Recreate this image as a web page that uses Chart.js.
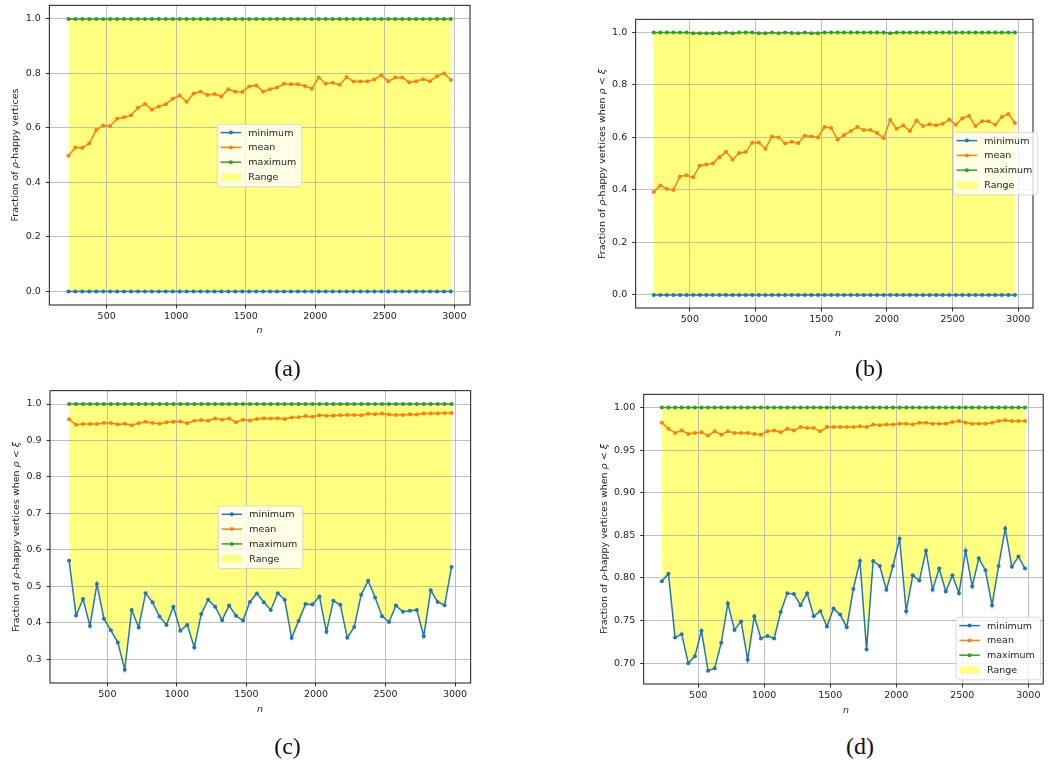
<!DOCTYPE html>
<html>
<head>
<meta charset="utf-8">
<script src="https://cdn.jsdelivr.net/npm/chart.js@4/dist/chart.umd.min.js"></script>
<style>
  html, body { margin: 0; padding: 0; background: #fff; }
  body { width: 1050px; height: 761px; position: relative; overflow: hidden;
         font-family: "DejaVu Sans", sans-serif; }
  canvas { position: absolute; }
  .ytitle { position: absolute; white-space: nowrap; font-size: 9.5px; color: #222;
            line-height: 1; transform: translate(-50%, -50%) rotate(-90deg); }
  .xtitle { position: absolute; white-space: nowrap; font-size: 9.5px; color: #222;
            line-height: 1; transform: translate(-50%, -50%); font-style: italic; }
  .cap { position: absolute; font-family: "Liberation Serif", "Times New Roman", serif;
         font-size: 24px; line-height: 1; color: #111; transform: translateX(-50%); }
  i { font-style: italic; }
</style>
</head>
<body>
<script>
// graph sizes n
const nValues = [225, 275, 325, 375, 425, 475, 525, 575, 625, 675,
                 725, 775, 825, 875, 925, 975, 1025, 1075, 1125, 1175,
                 1225, 1275, 1325, 1375, 1425, 1475, 1525, 1575, 1625, 1675,
                 1725, 1775, 1825, 1875, 1925, 1975, 2025, 2075, 2125, 2175,
                 2225, 2275, 2325, 2375, 2425, 2475, 2525, 2575, 2625, 2675,
                 2725, 2775, 2825, 2875, 2925, 2975];

// (a) fraction of rho-happy vertices
const minA = [0, 0, 0, 0, 0, 0, 0, 0, 0, 0, 0, 0, 0, 0, 0, 0, 0, 0, 0, 0,
              0, 0, 0, 0, 0, 0, 0, 0, 0, 0, 0, 0, 0, 0, 0, 0, 0, 0, 0, 0,
              0, 0, 0, 0, 0, 0, 0, 0, 0, 0, 0, 0, 0, 0, 0, 0];
const meanA = [0.498, 0.528, 0.527, 0.543, 0.592, 0.609, 0.607, 0.634, 0.639, 0.646,
               0.674, 0.688, 0.667, 0.679, 0.687, 0.707, 0.719, 0.696, 0.726, 0.733,
               0.721, 0.724, 0.715, 0.742, 0.733, 0.732, 0.752, 0.756, 0.733, 0.742,
               0.748, 0.762, 0.760, 0.760, 0.754, 0.744, 0.785, 0.762, 0.766, 0.758,
               0.787, 0.770, 0.770, 0.771, 0.778, 0.793, 0.771, 0.785, 0.785, 0.768,
               0.771, 0.779, 0.771, 0.790, 0.800, 0.776];
const maxA = [1, 1, 1, 1, 1, 1, 1, 1, 1, 1, 1, 1, 1, 1, 1, 1, 1, 1, 1, 1,
              1, 1, 1, 1, 1, 1, 1, 1, 1, 1, 1, 1, 1, 1, 1, 1, 1, 1, 1, 1,
              1, 1, 1, 1, 1, 1, 1, 1, 1, 1, 1, 1, 1, 1, 1, 1];

// (b) rho-happy vertices when rho < xi
const minB = [0, 0, 0, 0, 0, 0, 0, 0, 0, 0, 0, 0, 0, 0, 0, 0, 0, 0, 0, 0,
              0, 0, 0, 0, 0, 0, 0, 0, 0, 0, 0, 0, 0, 0, 0, 0, 0, 0, 0, 0,
              0, 0, 0, 0, 0, 0, 0, 0, 0, 0, 0, 0, 0, 0, 0, 0];
const meanB = [0.392, 0.417, 0.403, 0.400, 0.451, 0.456, 0.448, 0.492, 0.497, 0.501,
               0.524, 0.545, 0.516, 0.541, 0.544, 0.580, 0.581, 0.557, 0.603, 0.600,
               0.577, 0.583, 0.578, 0.606, 0.603, 0.600, 0.640, 0.636, 0.592, 0.609,
               0.624, 0.640, 0.628, 0.628, 0.617, 0.597, 0.666, 0.633, 0.645, 0.624,
               0.664, 0.643, 0.650, 0.646, 0.652, 0.668, 0.648, 0.673, 0.682, 0.643,
               0.662, 0.662, 0.648, 0.678, 0.689, 0.655];
const maxB = [1, 1, 1, 1, 1, 1, 0.997, 0.997, 0.997, 0.997,
              0.997, 1, 0.997, 1, 1, 1, 0.997, 0.997, 1, 0.997,
              1, 0.998, 0.997, 1, 0.997, 0.997, 1, 1, 1, 1,
              1, 1, 1, 1, 1, 1, 0.997, 1, 1, 1,
              1, 1, 1, 1, 1, 1, 1, 1, 1, 1,
              1, 1, 1, 1, 1, 1];

// (c)
const minC = [0.570, 0.420, 0.465, 0.391, 0.506, 0.411, 0.379, 0.346, 0.271, 0.435,
              0.387, 0.481, 0.456, 0.417, 0.394, 0.444, 0.378, 0.394, 0.332, 0.424,
              0.463, 0.444, 0.407, 0.447, 0.419, 0.406, 0.457, 0.480, 0.456, 0.435,
              0.481, 0.463, 0.358, 0.405, 0.451, 0.450, 0.472, 0.375, 0.460, 0.449,
              0.359, 0.388, 0.477, 0.515, 0.469, 0.418, 0.402, 0.447, 0.430, 0.433,
              0.435, 0.363, 0.489, 0.457, 0.448, 0.553];
const meanC = [0.958, 0.943, 0.945, 0.945, 0.945, 0.948, 0.948, 0.944, 0.946, 0.942,
               0.947, 0.951, 0.948, 0.946, 0.950, 0.951, 0.952, 0.947, 0.954, 0.956,
               0.954, 0.960, 0.957, 0.960, 0.950, 0.957, 0.955, 0.959, 0.961, 0.960,
               0.961, 0.959, 0.963, 0.964, 0.967, 0.965, 0.969, 0.968, 0.968, 0.969,
               0.970, 0.970, 0.969, 0.973, 0.972, 0.974, 0.971, 0.970, 0.970, 0.972,
               0.971, 0.974, 0.974, 0.974, 0.975, 0.975];
const maxC = [1, 1, 1, 1, 1, 1, 1, 1, 1, 1, 1, 1, 1, 1, 1, 1, 1, 1, 1, 1,
              1, 1, 1, 1, 1, 1, 1, 1, 1, 1, 1, 1, 1, 1, 1, 1, 1, 1, 1, 1,
              1, 1, 1, 1, 1, 1, 1, 1, 1, 1, 1, 1, 1, 1, 1, 1];

// (d)
const minD = [0.796, 0.805, 0.730, 0.734, 0.700, 0.708, 0.738, 0.691, 0.694, 0.724,
              0.770, 0.739, 0.749, 0.704, 0.755, 0.729, 0.732, 0.729, 0.760, 0.782,
              0.781, 0.768, 0.782, 0.755, 0.761, 0.743, 0.764, 0.757, 0.742, 0.787,
              0.820, 0.716, 0.820, 0.814, 0.786, 0.814, 0.846, 0.761, 0.803, 0.797,
              0.832, 0.786, 0.811, 0.784, 0.803, 0.782, 0.832, 0.790, 0.823, 0.809,
              0.768, 0.814, 0.858, 0.813, 0.825, 0.811];
const meanD = [0.982, 0.975, 0.970, 0.973, 0.969, 0.970, 0.971, 0.967, 0.972, 0.968,
               0.972, 0.970, 0.970, 0.970, 0.969, 0.968, 0.972, 0.973, 0.971, 0.975,
               0.973, 0.977, 0.976, 0.976, 0.972, 0.977, 0.977, 0.977, 0.977, 0.977,
               0.978, 0.977, 0.980, 0.979, 0.980, 0.980, 0.981, 0.981, 0.980, 0.982,
               0.982, 0.981, 0.981, 0.981, 0.983, 0.984, 0.982, 0.981, 0.981, 0.981,
               0.982, 0.984, 0.985, 0.984, 0.984, 0.984];
const maxD = [1, 1, 1, 1, 1, 1, 1, 1, 1, 1, 1, 1, 1, 1, 1, 1, 1, 1, 1, 1,
              1, 1, 1, 1, 1, 1, 1, 1, 1, 1, 1, 1, 1, 1, 1, 1, 1, 1, 1, 1,
              1, 1, 1, 1, 1, 1, 1, 1, 1, 1, 1, 1, 1, 1, 1, 1];

// tick values
const xTicks = [500, 1000, 1500, 2000, 2500, 3000];
const yTicksFull = [0.0, 0.2, 0.4, 0.6, 0.8, 1.0];
const yTicksC = [0.3, 0.4, 0.5, 0.6, 0.7, 0.8, 0.9, 1.0];
const yTicksD = [0.70, 0.75, 0.80, 0.85, 0.90, 0.95, 1.00];

const seriesNames = ['minimum', 'mean', 'maximum', 'Range'];
const panelLetters = ['(a)', '(b)', '(c)', '(d)'];

const BLUE = '#1f77b4', ORANGE = '#ff7f0e', GREEN = '#2ca02c', YELLOW = '#ffff80';
const FONT = { family: 'DejaVu Sans', size: 9.5 };
const TEXT = '#222';

// axes frame (all four spines)
const framePlugin = {
  id: 'frame',
  afterDatasetsDraw(chart) {
    const a = chart.chartArea, ctx = chart.ctx;
    ctx.save();
    ctx.strokeStyle = '#000';
    ctx.lineWidth = 0.9;
    ctx.strokeRect(a.left, a.top, a.right - a.left, a.bottom - a.top);
    ctx.restore();
  }
};

// boxed legend placed inside the axes
const boxLegendPlugin = {
  id: 'boxLegend',
  afterDraw(chart, args, opts) {
    const ctx = chart.ctx;
    const x = opts.x, y = opts.y, w = 84.5, h = 62.5, r = 3;
    ctx.save();
    ctx.beginPath();
    ctx.roundRect(x, y, w, h, r);
    ctx.fillStyle = 'rgba(255,255,255,0.8)';
    ctx.fill();
    ctx.strokeStyle = '#d0d0d0';
    ctx.lineWidth = 0.8;
    ctx.stroke();
    ctx.font = FONT.size + 'px "DejaVu Sans"';
    ctx.textBaseline = 'middle';
    chart.data.datasets.forEach((ds, i) => {
      const ry = y + 8.3 + i * 14.8;
      const hx0 = x + 3.3, hx1 = x + 23.8;
      if (ds.fill !== undefined && ds.fill !== false) {
        ctx.fillStyle = ds.backgroundColor;
        ctx.fillRect(hx0, ry - 3.5, hx1 - hx0, 7);
      } else {
        ctx.strokeStyle = ds.borderColor;
        ctx.lineWidth = 1.5;
        ctx.beginPath();
        ctx.moveTo(hx0, ry);
        ctx.lineTo(hx1, ry);
        ctx.stroke();
        ctx.fillStyle = ds.borderColor;
        ctx.beginPath();
        ctx.arc((hx0 + hx1) / 2, ry, 2, 0, Math.PI * 2);
        ctx.fill();
      }
      ctx.fillStyle = TEXT;
      ctx.fillText(ds.label, x + 31, ry + 0.5);
    });
    ctx.restore();
  }
};

function line(label, values, color) {
  return {
    label, data: nValues.map((n, i) => ({ x: n, y: values[i] })),
    borderColor: color, backgroundColor: color, borderWidth: 1.5,
    pointRadius: 2, pointBorderWidth: 0, pointBackgroundColor: color,
    tension: 0, fill: false
  };
}

function panel(p) {
  const c = document.createElement('canvas');
  c.width = p.w; c.height = p.h;
  c.style.left = p.left + 'px'; c.style.top = p.top + 'px';
  c.style.width = p.w + 'px'; c.style.height = p.h + 'px';
  document.body.appendChild(c);

  const strip = s => { s.paddingLeft = 0; s.paddingRight = 0; s.paddingTop = 0; s.paddingBottom = 0; };
  const gridOpts = { color: '#b0b0b0', lineWidth: 0.8, tickLength: 3.5, tickColor: '#000', tickWidth: 0.8 };

  new Chart(c, {
    type: 'line',
    data: {
      datasets: [
        line(seriesNames[0], p.min, BLUE),
        line(seriesNames[1], p.mean, ORANGE),
        line(seriesNames[2], p.max, GREEN),
        // shaded band: drawn along the minimum and filled up to the maximum (dataset 2)
        {
          label: seriesNames[3], data: nValues.map((n, i) => ({ x: n, y: p.min[i] })),
          fill: 2, borderWidth: 0, borderColor: 'rgba(0,0,0,0)', backgroundColor: YELLOW,
          pointRadius: 0, tension: 0
        }
      ]
    },
    options: {
      responsive: false, animation: false, devicePixelRatio: 1,
      layout: { padding: { top: p.area.t, right: p.w - p.area.r, left: 0, bottom: 0 } },
      plugins: {
        legend: { display: false }, tooltip: { enabled: false },
        filler: { drawTime: 'beforeDraw' },
        boxLegend: { x: p.legend[0], y: p.legend[1] }
      },
      scales: {
        x: {
          type: 'linear', min: 87.5, max: 3112.5,
          afterBuildTicks: s => { s.ticks = xTicks.map(v => ({ value: v })); },
          afterFit: s => { s.height = p.h - p.area.b; strip(s); },
          ticks: { font: FONT, color: TEXT, padding: 2, maxRotation: 0, autoSkip: false,
                   callback: v => String(v) },
          grid: gridOpts, border: { display: false }
        },
        y: {
          type: 'linear', min: p.yMin, max: p.yMax,
          afterBuildTicks: s => { s.ticks = p.yTicks.map(v => ({ value: v })); },
          afterFit: s => { s.width = p.area.l; strip(s); },
          ticks: { font: FONT, color: TEXT, padding: 5, autoSkip: false,
                   callback: v => Number(v).toFixed(p.dec) },
          grid: gridOpts, border: { display: false }
        }
      }
    },
    plugins: [framePlugin, boxLegendPlugin]
  });
}

function addText(cls, html, x, y) {
  const d = document.createElement('div');
  d.className = cls;
  d.innerHTML = html;
  d.style.left = x + 'px';
  d.style.top = y + 'px';
  document.body.appendChild(d);
}

const titleShort = 'Fraction of <i>ρ</i>-happy vertices';
const titleLong = 'Fraction of <i>ρ</i>-happy vertices when <i>ρ</i> &lt; <i>ξ</i>';

panel({ left: 0, top: 0, w: 480, h: 345, area: { l: 49.3, t: 5.3, r: 470, b: 305 },
        min: minA, mean: meanA, max: maxA, yMin: -0.05, yMax: 1.05, yTicks: yTicksFull, dec: 1,
        legend: [217.3, 124.3] });
panel({ left: 590, top: 0, w: 460, h: 345, area: { l: 45.7, t: 19.3, r: 443, b: 308 },
        min: minB, mean: meanB, max: maxB, yMin: -0.05, yMax: 1.05, yTicks: yTicksFull, dec: 1,
        legend: [363.3, 132.3] });
panel({ left: 0, top: 375, w: 480, h: 345, area: { l: 50, t: 15.7, r: 470.7, b: 308 },
        min: minC, mean: meanC, max: maxC, yMin: 0.2346, yMax: 1.0365, yTicks: yTicksC, dec: 1,
        legend: [218.3, 131] });
panel({ left: 590, top: 375, w: 460, h: 345, area: { l: 53.7, t: 19.3, r: 453.2, b: 309 },
        min: minD, mean: meanD, max: maxD, yMin: 0.67555, yMax: 1.01545, yTicks: yTicksD, dec: 2,
        legend: [366, 242.3] });

addText('ytitle', titleShort, 15, 155);
addText('ytitle', titleLong, 602, 164);
addText('ytitle', titleLong, 16, 537);
addText('ytitle', titleLong, 603.5, 539);

addText('xtitle', 'n', 259.5, 330);
addText('xtitle', 'n', 838, 333);
addText('xtitle', 'n', 260, 709);
addText('xtitle', 'n', 846, 710);

addText('cap', panelLetters[0], 287.5, 356);
addText('cap', panelLetters[1], 869, 356);
addText('cap', panelLetters[2], 287.5, 734);
addText('cap', panelLetters[3], 860, 734);
</script>
</body>
</html>
